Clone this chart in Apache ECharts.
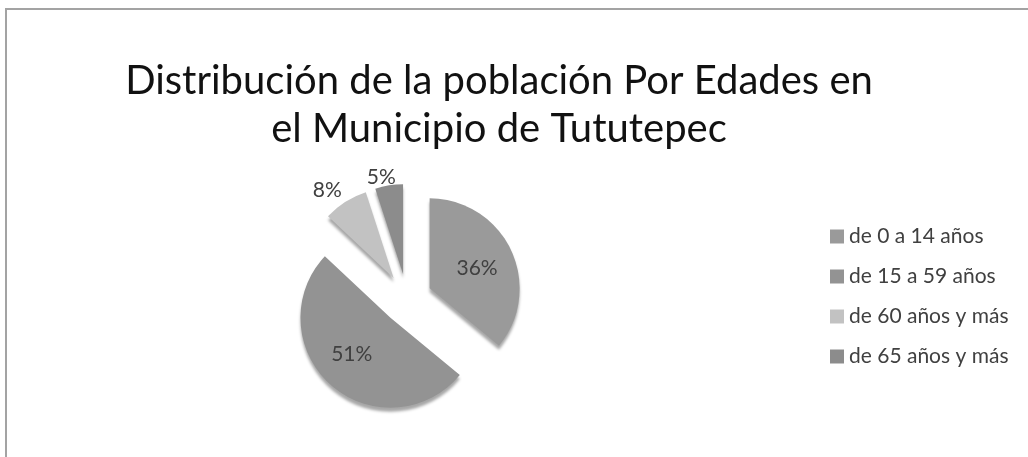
<!DOCTYPE html>
<html>
<head>
<meta charset="utf-8">
<script src="https://cdn.jsdelivr.net/npm/echarts@6/dist/echarts.min.js"></script>
<style>
  html, body { margin: 0; padding: 0; background: #fff; }
  #chart { width: 1028px; height: 457px; }
</style>
</head>
<body>
<div id="chart"></div>
<script>
// datos del grafico
var categorias = ["de 0 a 14 años", "de 15 a 59 años", "de 60 años y más", "de 65 años y más"];
var porcentajes = [36, 51, 8, 5];
var colores = ["#9a9a9a", "#939393", "#c2c2c2", "#8c8c8c"];
var etiquetaDentro = [true, true, false, false];
var largoLinea = [0, 0, 14, 8];
var distEtiqueta = [5, 5, -4, -8];
var rellenoEtiqueta = [[0, 0, 24, 8], [0, 14, 0, 0], [0, 0, 0, 0], [0, 0, 0, 0]];

var datos = categorias.map(function (nombre, i) {
  return {
    name: nombre,
    value: porcentajes[i],
    selected: true,
    itemStyle: { color: colores[i] },
    label: {
      position: etiquetaDentro[i] ? "inside" : "outside",
      distanceToLabelLine: distEtiqueta[i],
      padding: rellenoEtiqueta[i]
    },
    labelLine: { show: false, length: largoLinea[i], length2: 0 }
  };
});

var myChart = echarts.init(document.getElementById("chart"));
myChart.setOption({
  animation: false,
  title: {
    text: "Distribución de la población Por Edades en\nel Municipio de Tututepec",
    left: 494,
    top: 52,
    textAlign: "center",
    textStyle: {
      fontFamily: "Lato",
      fontSize: 40,
      fontWeight: "normal",
      color: "#111",
      lineHeight: 48
    }
  },
  legend: {
    orient: "vertical",
    left: 825,
    top: 221,
    itemWidth: 14,
    itemHeight: 14,
    itemGap: 19,
    icon: "rect",
    selectedMode: false,
    textStyle: { fontFamily: "Lato", fontSize: 21, color: "#404040" },
    data: categorias
  },
  graphic: [
    { type: "line", shape: { x1: 5, y1: 9, x2: 1028, y2: 9 }, style: { stroke: "#a3a3a3", lineWidth: 2 } },
    { type: "line", shape: { x1: 6, y1: 8, x2: 6, y2: 457 }, style: { stroke: "#a3a3a3", lineWidth: 2 } }
  ],
  series: [{
    type: "pie",
    center: [407, 299],
    radius: 90,
    startAngle: 90,
    selectedMode: "multiple",
    selectedOffset: 25,
    avoidLabelOverlap: false,
    emphasis: { disabled: true },
    label: {
      formatter: "{c}%",
      fontFamily: "Lato",
      fontSize: 21,
      color: "#404040"
    },
    itemStyle: {
      shadowColor: "rgba(0,0,0,0.35)",
      shadowBlur: 3,
      shadowOffsetY: 4
    },
    data: datos
  }]
});
</script>
</body>
</html>
